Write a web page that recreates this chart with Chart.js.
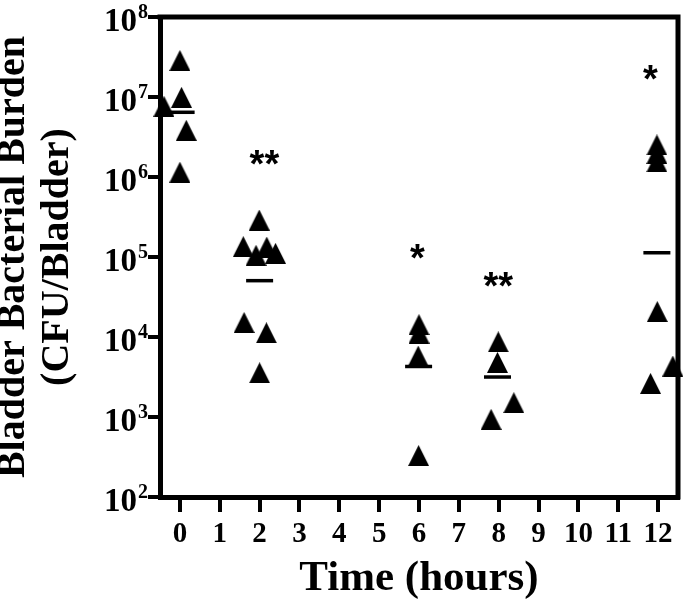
<!DOCTYPE html>
<html>
<head>
<meta charset="utf-8">
<script src="https://cdn.jsdelivr.net/npm/chart.js@4.4.0/dist/chart.umd.min.js"></script>
<style>
html,body{margin:0;padding:0;background:#ffffff;}
#wrap{width:695px;height:605px;}
</style>
</head>
<body>
<div id="wrap"><canvas id="c" width="695" height="605"></canvas></div>
<script>
// ---- data ----
const timeTicks = [0,1,2,3,4,5,6,7,8,9,10,11,12];
const yTickExponents = [2,3,4,5,6,7,8];

const x0h  = [0, 0.04, -0.40, 0.16, 0];
const cfu0h = [2.86e7, 9.9e6, 7.66e6, 3.84e6, 1.15e6];

const x2h  = [1.99, 1.59, 1.91, 2.18, 2.40, 1.61, 2.17, 2.00];
const cfu2h = [2.9e5, 1.35e5, 1.05e5, 1.33e5, 1.11e5, 1.52e4, 1.13e4, 3.57e3];

const x6h  = [6.00, 6.00, 5.98, 5.99];
const cfu6h = [1.43e4, 1.12e4, 5.77e3, 330];

const x8h  = [7.99, 7.97, 8.38, 7.81];
const cfu8h = [8.7e3, 4.81e3, 1.51e3, 935];

const x12h  = [11.97, 11.97, 11.97, 11.98, 12.37, 11.81];
const cfu12h = [2.52e6, 1.97e6, 1.55e6, 2.08e4, 4.34e3, 2.63e3];

const meanX   = [0.03, 2.00, 5.99, 7.97, 11.97];
const meanCfu = [6.44e6, 5.06e4, 4.28e3, 3.16e3, 1.13e5];

const sigText = ['**', '*', '**', '*'];
const sigX    = [2.12, 5.96, 7.99, 11.81];
const sigCfu  = [1.75e6, 1.16e5, 5.27e4, 2.05e7];

// ---- helpers ----
function pts(xs, ys){ return xs.map((x,i)=>({x:x, y:ys[i]})); }
function makeTriangle(size){
  const c = document.createElement('canvas');
  c.width = size; c.height = size;
  const g = c.getContext('2d');
  g.fillStyle = '#000';
  g.beginPath();
  g.moveTo(size/2, 0); g.lineTo(size, size); g.lineTo(0, size); g.closePath();
  g.fill();
  return c;
}
const tri = makeTriangle(21);
const SERIF = "'Liberation Serif','Times New Roman',serif";

function triSet(xs, ys){
  return {data: pts(xs, ys), pointStyle: tri, pointRadius: 10, clip: false,
          backgroundColor:'#000', borderColor:'#000', showLine:false};
}

const framePlugin = {
  id:'frame',
  beforeDatasetsDraw(chart){
    const {ctx, chartArea:a} = chart;
    ctx.save();
    ctx.strokeStyle = '#000'; ctx.lineWidth = 5;
    ctx.beginPath();
    ctx.moveTo(a.left - 2.5, a.top); ctx.lineTo(a.right + 2.5, a.top);
    ctx.moveTo(a.right, a.top); ctx.lineTo(a.right, a.bottom + 2.5);
    ctx.stroke();
    ctx.restore();
  },
  afterDatasetsDraw(chart){
    const {ctx} = chart;
    const xs = chart.scales.x, ys = chart.scales.y;
    ctx.save();
    ctx.fillStyle = '#000';
    // y tick labels 10^n
    for (const e of yTickExponents){
      const y = ys.getPixelForValue(Math.pow(10, e));
      const right = ys.right - 23;
      ctx.font = 'bold 33px ' + SERIF;
      ctx.textAlign = 'right'; ctx.textBaseline = 'alphabetic';
      ctx.fillText('10', right, y + 14);
      ctx.font = 'bold 20px ' + SERIF;
      ctx.textAlign = 'left';
      ctx.fillText(String(e), right + 1, y + 1);
    }
    // significance marks
    ctx.font = "bold 38px 'Liberation Sans', Arial, sans-serif";
    ctx.textAlign = 'center'; ctx.textBaseline = 'alphabetic';
    sigText.forEach((t,i)=>{
      const px = xs.getPixelForValue(sigX[i]);
      const py = ys.getPixelForValue(sigCfu[i]);
      const m = ctx.measureText(t);
      ctx.fillText(t, px, py + (m.actualBoundingBoxAscent - m.actualBoundingBoxDescent)/2);
    });
    ctx.restore();
  }
};

new Chart(document.getElementById('c'), {
  type: 'scatter',
  data: {
    datasets: [
      triSet(x0h, cfu0h),
      triSet(x2h, cfu2h),
      triSet(x6h, cfu6h),
      triSet(x8h, cfu8h),
      triSet(x12h, cfu12h),
      {data: pts(meanX, meanCfu), pointStyle:'line', pointRadius:13.5, pointBorderWidth:3.5,
       borderColor:'#000', backgroundColor:'#000', clip:false, showLine:false}
    ]
  },
  options: {
    responsive: false,
    devicePixelRatio: 1,
    animation: false,
    events: [],
    layout: {padding: {left:0, top:16, right:5, bottom:0}},
    plugins: {legend:{display:false}, tooltip:{enabled:false}},
    scales: {
      x: {
        type:'linear', min:-0.5, max:12.5,
        afterBuildTicks: s => { s.ticks = timeTicks.map(v=>({value:v})); },
        afterFit: s => { s.height = 108; },
        border: {display:true, color:'#000', width:5},
        grid: {display:true, drawOnChartArea:false, drawTicks:true, tickLength:15, lineWidth:4, color:'#000'},
        ticks: {color:'#000', font:{family:SERIF, size:29, weight:'bold'}, padding:5, maxRotation:0, autoSkip:false},
        title: {display:true, text:'Time (hours)', color:'#000', font:{family:SERIF, size:43, weight:'bold', lineHeight:1.1}, padding:{top:0, bottom:2}}
      },
      y: {
        type:'logarithmic', min:1e2, max:1e8,
        afterBuildTicks: s => { s.ticks = yTickExponents.map(e=>({value:Math.pow(10,e)})); },
        afterFit: s => { s.width = 160; },
        border: {display:true, color:'#000', width:5},
        grid: {display:true, drawOnChartArea:false, drawTicks:true, tickLength:12, lineWidth:4, color:'#000'},
        ticks: {display:false},
        title: {display:true, text:['Bladder Bacterial Burden','(CFU/Bladder)'], color:'#000', font:{family:SERIF, size:40, weight:'bold', lineHeight:1.1}, padding:{top:-8, bottom:0}}
      }
    }
  },
  plugins: [framePlugin]
});
</script>
</body>
</html>
